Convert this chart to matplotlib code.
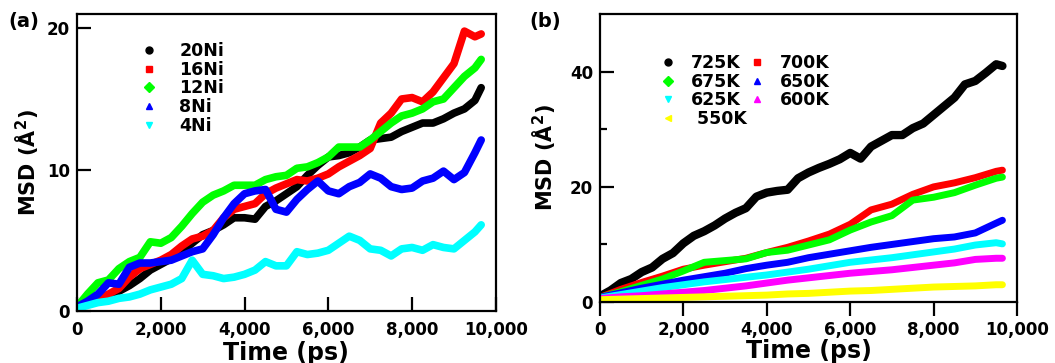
import matplotlib
matplotlib.use("Agg")
import matplotlib.pyplot as plt
from matplotlib.lines import Line2D

plt.rcParams['font.family'] = ['DejaVu Sans']
plt.rcParams['font.weight'] = 'bold'
plt.rcParams['mathtext.default'] = 'bf'

# ---------------- Panel (a): MSD vs time for different Ni content ----------------
time_a = [0, 250, 500, 750, 1000, 1250, 1500, 1750, 2000, 2250,
          2500, 2750, 3000, 3250, 3500, 3750, 4000, 4250, 4500, 4750,
          5000, 5250, 5500, 5750, 6000, 6250, 6500, 6750, 7000, 7250,
          7500, 7750, 8000, 8250, 8500, 8750, 9000, 9250, 9500, 9650]

msd_20ni = [0.3, 0.6, 0.9, 1.1, 1.4, 1.8, 2.3, 2.9, 3.3, 3.7,
            4.2, 4.8, 5.4, 5.7, 6.1, 6.6, 6.6, 6.5, 7.4, 7.8,
            8.3, 8.8, 9.6, 10.3, 10.9, 11.0, 11.2, 11.6, 12.1, 12.2,
            12.3, 12.7, 13.0, 13.3, 13.3, 13.6, 14.0, 14.3, 14.9, 15.8]
msd_16ni = [0.3, 0.6, 0.9, 1.2, 1.6, 2.4, 3.0, 3.3, 3.6, 4.0,
            4.6, 5.1, 5.3, 5.7, 6.6, 7.2, 7.4, 7.6, 8.3, 8.7,
            9.0, 9.3, 9.2, 9.4, 9.7, 10.2, 10.6, 11.0, 11.5, 13.3,
            14.0, 15.0, 15.1, 14.8, 15.5, 16.5, 17.5, 19.8, 19.4, 19.6]
msd_12ni = [0.3, 1.2, 2.0, 2.2, 3.0, 3.5, 3.8, 4.9, 4.8, 5.2,
            6.0, 6.9, 7.7, 8.2, 8.5, 8.9, 8.9, 8.9, 9.3, 9.5,
            9.6, 10.1, 10.2, 10.5, 10.9, 11.6, 11.6, 11.6, 12.1, 12.7,
            13.3, 13.8, 14.0, 14.3, 14.8, 15.0, 15.8, 16.6, 17.2, 17.8]
msd_8ni = [0.3, 0.7, 1.2, 2.0, 1.9, 3.1, 3.4, 3.4, 3.5, 3.6,
           3.9, 4.2, 4.4, 5.4, 6.6, 7.6, 8.3, 8.5, 8.6, 7.2,
           7.0, 7.9, 8.6, 9.2, 8.5, 8.3, 8.8, 9.1, 9.7, 9.4,
           8.8, 8.6, 8.7, 9.2, 9.4, 9.9, 9.3, 9.8, 11.2, 12.1]
msd_4ni = [0.2, 0.4, 0.6, 0.7, 0.9, 1.0, 1.2, 1.5, 1.7, 1.9,
           2.3, 3.6, 2.6, 2.5, 2.3, 2.4, 2.6, 2.9, 3.5, 3.2,
           3.2, 4.2, 4.0, 4.1, 4.3, 4.8, 5.3, 5.0, 4.4, 4.3,
           3.9, 4.4, 4.5, 4.3, 4.7, 4.5, 4.4, 5.0, 5.6, 6.1]

labels_a = ["20Ni", "16Ni", "12Ni", "8Ni", "4Ni"]
colors_a = ["#000000", "#ff0000", "#00ff00", "#0000ff", "#00ffff"]
markers_a = ["o", "s", "D", "^", "v"]

# ---------------- Panel (b): MSD vs time at different temperatures ----------------
time_b_fine = time_a
msd_725k = [1.0, 2.0, 3.3, 4.0, 5.2, 6.0, 7.5, 8.5, 10.2, 11.5,
            12.3, 13.3, 14.5, 15.5, 16.3, 18.3, 19.0, 19.3, 19.5, 21.5,
            22.5, 23.3, 24.0, 24.8, 25.9, 24.9, 27.0, 28.0, 29.0, 29.0,
            30.2, 31.0, 32.5, 34.0, 35.5, 37.8, 38.4, 39.8, 41.3, 41.0]

time_b = [0, 500, 1000, 1500, 2000, 2500, 3000, 3500, 4000, 4500,
          5000, 5500, 6000, 6500, 7000, 7500, 8000, 8500, 9000, 9500, 9650]
msd_700k = [0.8, 2.2, 3.4, 4.5, 5.7, 6.4, 7.0, 7.6, 8.6, 9.5,
            10.6, 11.8, 13.5, 16.0, 17.0, 18.7, 20.0, 20.7, 21.6, 22.7, 22.9]
msd_675k = [0.8, 1.8, 2.9, 4.0, 5.4, 6.9, 7.2, 7.5, 8.6, 9.0,
            9.9, 10.8, 12.5, 13.9, 15.0, 17.7, 18.2, 19.0, 20.3, 21.5, 21.7]
msd_650k = [0.8, 1.6, 2.4, 3.1, 3.8, 4.4, 5.0, 5.8, 6.4, 6.9,
            7.7, 8.3, 8.9, 9.5, 10.0, 10.5, 11.0, 11.3, 12.0, 13.7, 14.2]
msd_625k = [0.7, 1.3, 1.9, 2.5, 3.0, 3.5, 3.9, 4.3, 4.7, 5.2,
            5.7, 6.3, 6.9, 7.3, 7.7, 8.2, 8.7, 9.2, 9.9, 10.3, 10.1]
msd_600k = [0.6, 0.9, 1.1, 1.4, 1.7, 2.0, 2.4, 2.8, 3.3, 3.8,
            4.2, 4.6, 5.0, 5.3, 5.6, 6.0, 6.4, 6.8, 7.4, 7.6, 7.6]
msd_550k = [0.4, 0.5, 0.6, 0.7, 0.8, 0.9, 1.0, 1.1, 1.2, 1.4,
            1.5, 1.7, 1.9, 2.0, 2.2, 2.4, 2.6, 2.7, 2.8, 3.0, 3.0]

labels_b = ["725K", "700K", "675K", "650K", "625K", "600K", " 550K"]
colors_b = ["#000000", "#ff0000", "#00ff00", "#0000ff", "#00ffff", "#ff00ff", "#ffff00"]
markers_b = ["o", "s", "D", "^", "v", "^", "<"]

x_ticks = [0, 2000, 4000, 6000, 8000, 10000]
x_tick_labels = ["0", "2,000", "4,000", "6,000", "8,000", "10,000"]
y_ticks_a = [0, 10, 20]
y_ticks_b = [0, 20, 40]
y_minor_b = [10, 30]

fig = plt.figure(figsize=(10.55, 3.63), dpi=100)
ax_a = fig.add_axes([0.073, 0.143, 0.397, 0.818])
ax_b = fig.add_axes([0.5687, 0.168, 0.3953, 0.793])


def style_axes(ax):
    for sp in ax.spines.values():
        sp.set_linewidth(1.6)
    ax.set_xlim(0, 10000)
    ax.set_xticks(x_ticks)
    ax.set_xticklabels(x_tick_labels)
    for lab in ax.get_xticklabels() + ax.get_yticklabels():
        lab.set_fontsize(12)
        lab.set_fontweight('bold')
    ax.set_xlabel("Time (ps)", fontsize=17, fontweight='bold')
    ax.set_ylabel("MSD (Å$^{2}$)", fontsize=15, fontweight='bold')


# Panel (a)
series_a = [msd_20ni, msd_16ni, msd_12ni, msd_8ni, msd_4ni]
for vals, col in zip(series_a, colors_a):
    ax_a.plot(time_a, vals, color=col, lw=5.5, solid_joinstyle='round',
              solid_capstyle='round')
ax_a.set_ylim(0, 21)
ax_a.set_yticks(y_ticks_a)
style_axes(ax_a)
ax_a.tick_params(axis='both', direction='in', length=10, width=1.6, pad=5)
ax_a.tick_params(axis='x', pad=7)
ax_a.xaxis.set_label_coords(0.5, -0.1)
ax_a.yaxis.set_label_coords(-0.085, 0.5)

handles_a = [Line2D([], [], color=c, marker=m, ls='none', markersize=5)
             for c, m in zip(colors_a, markers_a)]
ax_a.legend(handles_a, labels_a, loc='upper left', bbox_to_anchor=(0.134, 0.93),
            frameon=False, prop={'size': 12.5, 'weight': 'bold'},
            handletextpad=1.25, labelspacing=0.04, handlelength=1.0,
            borderaxespad=0)

# Panel (b)
ax_b.plot(time_b_fine, msd_725k, color=colors_b[0], lw=6, solid_joinstyle='round',
          solid_capstyle='round')
series_b = [msd_700k, msd_675k, msd_650k, msd_625k, msd_600k, msd_550k]
for vals, col in zip(series_b, colors_b[1:]):
    ax_b.plot(time_b, vals, color=col, lw=5, solid_joinstyle='round',
              solid_capstyle='round')
ax_b.set_ylim(0, 50)
ax_b.set_yticks(y_ticks_b)
ax_b.set_yticks(y_minor_b, minor=True)
style_axes(ax_b)
ax_b.tick_params(axis='y', which='major', direction='in', length=10, width=1.6, pad=5)
ax_b.tick_params(axis='y', which='minor', direction='in', length=5, width=1.6)
ax_b.tick_params(axis='x', direction='out', length=10, width=1.6, pad=4)
ax_b.xaxis.set_label_coords(0.5, -0.13)
ax_b.yaxis.set_label_coords(-0.1, 0.5)

handles_b = [Line2D([], [], color=c, marker=m, ls='none', markersize=5)
             for c, m in zip(colors_b, markers_b)]
order = [0, 2, 4, 6, 1, 3, 5]
ax_b.legend([handles_b[i] for i in order], [labels_b[i] for i in order],
            loc='upper left', bbox_to_anchor=(0.125, 0.886), ncol=2,
            frameon=False, prop={'size': 12.5, 'weight': 'bold'},
            handletextpad=0.85, labelspacing=0.04, handlelength=1.0,
            columnspacing=0.05, borderaxespad=0)

fig.text(0.008, 0.94, "(a)", fontsize=14, fontweight='bold', va='center')
fig.text(0.502, 0.94, "(b)", fontsize=14, fontweight='bold', va='center')

fig.savefig("out.png", dpi=100)
